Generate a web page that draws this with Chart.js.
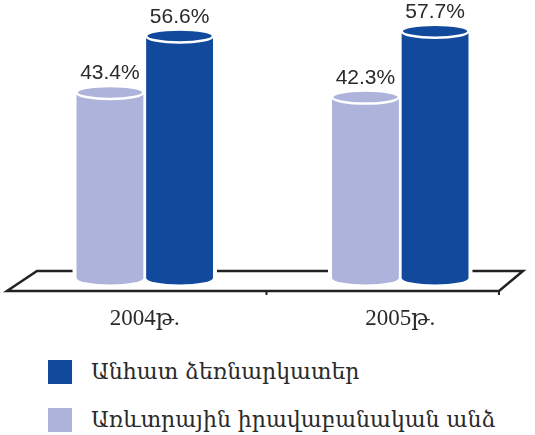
<!DOCTYPE html>
<html lang="hy">
<head>
<meta charset="utf-8">
<script src="https://cdn.jsdelivr.net/npm/chart.js@4.4.1/dist/chart.umd.min.js"></script>
<style>
  html, body { margin: 0; padding: 0; background: #fff; }
  #contenedor { position: relative; width: 535px; height: 435px; }
  #grafico { position: absolute; left: 0; top: 0; }
  .leyenda-item { position: absolute; left: 48px; height: 24px; font-family: 'DejaVu Serif', serif; font-size: 22px; color: #2a2a2a; white-space: nowrap; }
  .leyenda-item .cuadro { position: absolute; left: 0; top: 0; width: 24px; height: 24px; }
  .leyenda-item .texto { position: absolute; left: 43px; top: 0px; line-height: 24px; }
</style>
</head>
<body>
<div id="contenedor">
  <canvas id="grafico" width="535" height="340"></canvas>
  <div id="leyenda"></div>
</div>
<script>
// Datos del gráfico
const categorias = ['2004թ.', '2005թ.'];
const valoresPersonasJuridicas = [43.4, 42.3];   // Առևտրային իրավաբանական անձ
const valoresEmpresarios = [56.6, 57.7];         // Անհատ ձեռնարկատեր
const nombresSeries = ['Առևտրային իրավաբանական անձ', 'Անհատ ձեռնարկատեր'];

// Colores
const colorClaro = '#adb3da';
const colorOscuro = '#114a9c';

/**
 * Dibuja el suelo en perspectiva y los cilindros encima de las barras
 */
const pluginCilindros = {
  id: 'cilindros',
  beforeDatasetsDraw(chart) {
    const ctx = chart.ctx;
    const area = chart.chartArea;
    const base = area.bottom;
    const yFondo = base - 7;
    const yFrente = base + 13;
    const izq = area.left, der = area.right;

    ctx.save();
    ctx.strokeStyle = '#222';
    ctx.lineWidth = 2.5;
    ctx.lineJoin = 'miter';
    ctx.beginPath();
    ctx.moveTo(izq + 20, yFondo);
    ctx.lineTo(der - 5, yFondo);
    ctx.lineTo(der - 29, yFrente);
    ctx.lineTo(izq - 10, yFrente);
    ctx.closePath();
    ctx.stroke();

    // marcas de separación
    ctx.lineWidth = 2;
    const xSep = chart.scales.x.getPixelForValue(0.5) - 6;
    [xSep, der - 29].forEach(x => {
      ctx.beginPath();
      ctx.moveTo(x, yFrente);
      ctx.lineTo(x, yFrente + 4);
      ctx.stroke();
    });

    // hueco blanco alrededor de las barras en la línea de fondo
    ctx.fillStyle = '#fff';
    chart.data.datasets.forEach((ds, i) => {
      chart.getDatasetMeta(i).data.forEach(bar => {
        ctx.fillRect(bar.x - bar.width / 2 - 4, yFondo - 3, bar.width + 8, 6);
      });
    });
    ctx.restore();
  },
  afterDatasetsDraw(chart) {
    const ctx = chart.ctx;
    const ry = 6.5;
    ctx.save();
    chart.data.datasets.forEach((ds, i) => {
      chart.getDatasetMeta(i).data.forEach((bar, j) => {
        const rx = bar.width / 2;
        ctx.fillStyle = ds.backgroundColor;

        // base redondeada
        ctx.beginPath();
        ctx.ellipse(bar.x, bar.base, rx, ry, 0, 0, Math.PI);
        ctx.fill();

        // tapa superior
        ctx.beginPath();
        ctx.ellipse(bar.x, bar.y, rx, ry, 0, 0, Math.PI * 2);
        ctx.fill();
        ctx.strokeStyle = '#fff';
        ctx.lineWidth = 2.5;
        ctx.stroke();

        // etiqueta de valor
        ctx.fillStyle = '#2a2a2a';
        ctx.font = '21px "Liberation Sans", Arial, sans-serif';
        ctx.textAlign = 'center';
        ctx.textBaseline = 'middle';
        ctx.fillText(ds.data[j].toFixed(1) + '%', bar.x, bar.y - 19);
      });
    });
    ctx.restore();
  }
};

/**
 * Crea el gráfico
 */
function inicializarGrafico() {
  const ctx = document.getElementById('grafico');
  new Chart(ctx, {
    type: 'bar',
    data: {
      labels: categorias,
      datasets: [
        { label: nombresSeries[0], data: valoresPersonasJuridicas, backgroundColor: colorClaro },
        { label: nombresSeries[1], data: valoresEmpresarios, backgroundColor: colorOscuro }
      ]
    },
    options: {
      responsive: false,
      animation: false,
      categoryPercentage: 0.545,
      barPercentage: 0.96,
      layout: { padding: { left: 17, right: 7, top: 0, bottom: 0 } },
      plugins: {
        legend: { display: false },
        tooltip: { enabled: false }
      },
      scales: {
        x: {
          grid: { display: false, drawTicks: false },
          border: { display: false },
          ticks: {
            font: { family: '"Liberation Serif", "DejaVu Serif", serif', size: 23 },
            color: '#2a2a2a',
            padding: 27
          },
          afterFit(scale) { scale.height = 62; }
        },
        y: { display: false, min: 0, max: 65 }
      }
    },
    plugins: [pluginCilindros]
  });
}

/**
 * Leyenda en HTML (series en orden inverso)
 */
function crearLeyenda() {
  const leyenda = document.getElementById('leyenda');
  const items = [
    { texto: nombresSeries[1], color: colorOscuro, top: 360 },
    { texto: nombresSeries[0], color: colorClaro, top: 408 }
  ];
  items.forEach(item => {
    const div = document.createElement('div');
    div.className = 'leyenda-item';
    div.style.top = item.top + 'px';
    div.innerHTML = '<span class="cuadro" style="background:' + item.color + '"></span>' +
      '<span class="texto"></span>';
    div.querySelector('.texto').textContent = item.texto;
    leyenda.appendChild(div);
  });
}

inicializarGrafico();
crearLeyenda();
</script>
</body>
</html>
